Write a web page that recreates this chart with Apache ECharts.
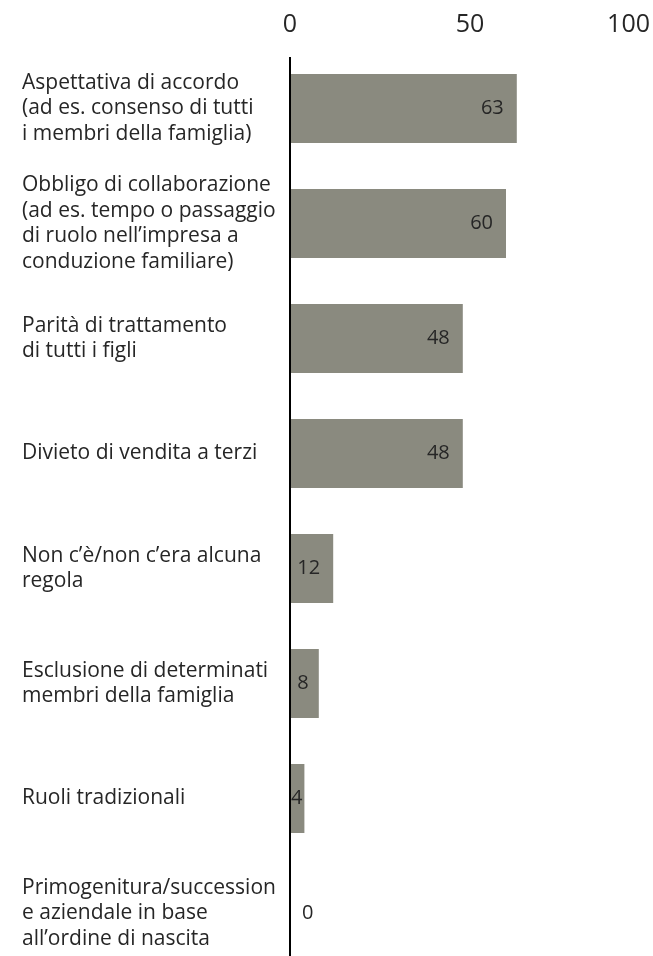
<!DOCTYPE html>
<html>
<head>
<meta charset="utf-8">
<script src="https://cdn.jsdelivr.net/npm/echarts@6/dist/echarts.min.js"></script>
<style>
  html, body { margin: 0; padding: 0; background: #fff; }
  #chart { width: 653px; height: 956px; }
</style>
</head>
<body>
<div id="chart"></div>
<script>
// Rules mentioned in family business succession, share of respondents (%)
const categories = [
  'Aspettativa di accordo\n(ad es. consenso di tutti\ni membri della famiglia)',
  'Obbligo di collaborazione\n(ad es. tempo o passaggio\ndi ruolo nell\u2019impresa a\nconduzione familiare)',
  'Parit\u00e0 di trattamento\ndi tutti i figli',
  'Divieto di vendita a terzi',
  'Non c\u2019\u00e8/non c\u2019era alcuna\nregola',
  'Esclusione di determinati\nmembri della famiglia',
  'Ruoli tradizionali',
  'Primogenitura/succession\ne aziendale in base\nall\u2019ordine di nascita'
];
const values = [63, 60, 48, 48, 12, 8, 4, 0];
const tickValues = [0, 50, 100];

const FONT = '"Open Sans", "Noto Sans", sans-serif';
const TEXT = '#262626';
const BAR = '#8a8a7f';

// value labels sit inside the bar end; very short bars get tighter placement
function labelFor(v) {
  if (v === 0) return { position: 'right', distance: 12 };
  if (v <= 4) return { position: 'insideRight', distance: 2 };
  if (v <= 8) return { position: 'insideRight', distance: 10 };
  return { position: 'insideRight', distance: 13 };
}

const chart = echarts.init(document.getElementById('chart'), null, { renderer: 'canvas' });

chart.setOption({
  backgroundColor: '#ffffff',
  animation: false,
  grid: { left: 290, right: 3, top: 51, height: 920, containLabel: false, outerBoundsMode: 'none' },
  xAxis: {
    type: 'value',
    position: 'top',
    min: tickValues[0],
    max: tickValues[tickValues.length - 1],
    interval: tickValues[1] - tickValues[0],
    axisLine: { show: false },
    axisTick: { show: false },
    splitLine: { show: false },
    axisLabel: {
      margin: 14,
      fontFamily: FONT,
      fontSize: 25,
      color: TEXT,
      alignMaxLabel: 'right'
    }
  },
  yAxis: {
    type: 'category',
    inverse: true,
    data: categories,
    axisLine: { show: false },
    axisTick: { show: false },
    axisLabel: {
      align: 'left',
      margin: 268,
      fontFamily: FONT,
      fontSize: 21,
      lineHeight: 25.5,
      color: TEXT
    }
  },
  series: [{
    type: 'bar',
    barWidth: 69,
    itemStyle: { color: BAR },
    data: values.map(v => ({ value: v, label: labelFor(v) })),
    label: {
      show: true,
      fontFamily: FONT,
      fontSize: 20,
      color: TEXT
    }
  }]
});

// vertical baseline at zero, drawn from just above the first bar to the bottom edge
const x0 = chart.convertToPixel({ xAxisIndex: 0 }, 0);
chart.setOption({
  graphic: [{
    type: 'line',
    z: 100,
    shape: { x1: x0, y1: 57, x2: x0, y2: 956 },
    style: { stroke: '#000000', lineWidth: 2 }
  }]
});
</script>
</body>
</html>
